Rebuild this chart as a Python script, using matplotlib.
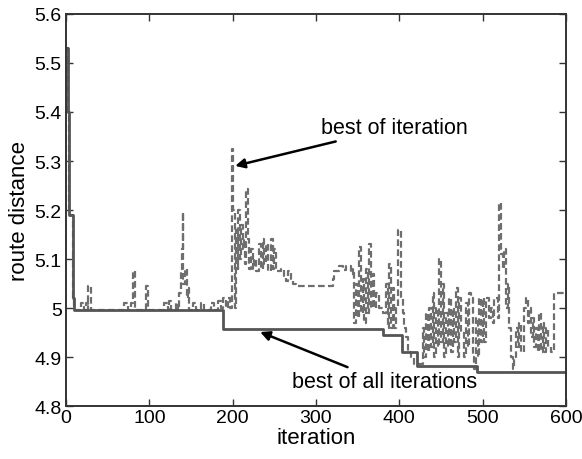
import matplotlib.pyplot as plt

# best of iteration: iteration where the value changes, and the new value
iter_steps = [0, 2, 4, 8, 10, 18, 22, 24, 26, 27, 30, 70, 74, 78, 80, 83, 96, 99,
              118, 122, 124, 126, 132, 135, 136, 138, 139, 140, 141, 143, 145, 147, 148,
              152, 156, 162, 166, 174, 178, 182, 186, 188, 192, 194, 197, 199, 201, 203,
              204, 206, 207, 209, 210, 212, 214, 215, 216, 218, 220, 222, 224, 226, 228,
              232, 234, 236, 238, 240, 242, 246, 248, 250, 252, 258, 262, 264, 266, 270,
              272, 276, 320, 322, 328, 332, 336, 342, 344, 346, 348, 350, 352, 354, 356,
              358, 360, 362, 364, 366, 368, 370, 372, 376, 380, 384, 386, 388, 390, 392,
              394, 396, 398, 402, 404, 406, 408, 410, 414, 418, 428, 430, 432, 434, 436,
              438, 440, 442, 444, 446, 448, 450, 452, 454, 456, 458, 460, 462, 464, 466,
              468, 470, 472, 474, 478, 480, 482, 484, 486, 488, 490, 492, 494, 496, 498,
              500, 502, 504, 508, 510, 512, 514, 518, 520, 522, 524, 526, 528, 530, 532,
              534, 536, 538, 540, 542, 544, 546, 550, 552, 554, 556, 558, 560, 562, 564,
              566, 568, 570, 572, 574, 576, 578, 582, 586, 600]
iter_values = [5.53, 5.40, 5.19, 5.02, 4.995, 5.01, 4.995, 5.01, 4.995, 5.045, 4.995, 5.01, 4.995, 5.01, 5.075, 4.995, 5.045, 4.995,
               5.01, 4.995, 5.015, 4.995, 5.01, 4.995, 5.03, 5.08, 5.12, 5.195, 5.05, 5.08, 5.02, 5.04, 4.995,
               5.01, 4.995, 5.01, 4.995, 5.01, 4.995, 5.015, 5.0, 5.02, 5.0, 5.02, 5.0, 5.325, 5.2, 5.0,
               5.16, 5.08, 5.2, 5.1, 5.17, 5.12, 5.14, 5.09, 5.243, 5.14, 5.08, 5.12, 5.08, 5.1, 5.075,
               5.13, 5.08, 5.14, 5.09, 5.13, 5.075, 5.14, 5.08, 5.12, 5.075, 5.08, 5.065, 5.055, 5.075, 5.06,
               5.05, 5.045, 5.06, 5.075, 5.085, 5.078, 5.085, 5.07, 5.08, 4.97, 5.05, 4.98, 5.125, 4.99, 5.06,
               4.97, 5.08, 4.99, 5.13, 5.0, 5.07, 5.0, 5.03, 5.0, 4.99, 5.05, 4.96, 5.09, 4.96, 5.04,
               4.96, 5.0, 5.16, 5.02, 4.99, 4.96, 4.94, 4.91, 4.9, 4.885, 4.96, 4.9, 4.99, 4.91, 5.0,
               4.92, 5.03, 4.9, 5.0, 4.92, 5.1, 4.93, 5.05, 4.9, 4.99, 4.92, 5.02, 4.91, 5.0, 4.93,
               5.04, 4.9, 5.02, 4.95, 4.9, 5.01, 4.92, 5.03, 5.02, 4.9, 4.875, 4.98, 4.9, 5.02, 4.93,
               5.02, 4.93, 5.02, 4.98, 5.0, 4.97, 5.02, 4.98, 5.215, 5.11, 5.08, 5.12, 5.0, 5.05, 4.96,
               4.9, 4.875, 4.9, 4.96, 4.92, 4.97, 4.91, 5.0, 5.02, 4.97, 5.0, 4.94, 4.98, 4.92, 4.96,
               4.91, 4.99, 4.91, 4.97, 4.91, 4.96, 4.92, 4.91, 5.03, 5.03]

# best of all iterations
all_steps = [0, 2, 4, 8, 10, 188, 380, 403, 421, 493, 600]
all_values = [5.53, 5.40, 5.19, 5.02, 4.995, 4.957, 4.945, 4.91, 4.882, 4.87, 4.87]

plt.rcParams['font.family'] = ['Liberation Sans', 'DejaVu Sans']

fig = plt.figure(figsize=(5.82, 4.60), dpi=100)
ax = fig.add_axes([0.1134, 0.1152, 0.8591, 0.8522])

ax.plot(iter_steps, iter_values, drawstyle='steps-post', linestyle=(0, (3, 1.5)),
        color='#6e6e6e', linewidth=1.6)
ax.plot(all_steps, all_values, drawstyle='steps-post', linestyle='-',
        color='#555555', linewidth=2.0)

ax.set_xlim(0, 600)
ax.set_ylim(4.8, 5.6)
ax.set_xticks([0, 100, 200, 300, 400, 500, 600])
ax.set_yticks([4.8, 4.9, 5.0, 5.1, 5.2, 5.3, 5.4, 5.5, 5.6])
ax.set_yticklabels(['4.8', '4.9', '5', '5.1', '5.2', '5.3', '5.4', '5.5', '5.6'])
ax.tick_params(direction='in', top=True, right=True, length=5, width=1,
               labelsize=14, color='#333333')
ax.tick_params(axis='x', pad=2)
ax.tick_params(axis='y', pad=3)
for s in ax.spines.values():
    s.set_linewidth(1.4)
    s.set_color('#333333')

ax.set_xlabel('iteration', fontsize=16, labelpad=1)
ax.set_ylabel('route distance', fontsize=16, labelpad=3)

ax.annotate('best of iteration', xy=(203, 5.29), xytext=(306, 5.369),
            fontsize=15.5, va='center', ha='left',
            arrowprops=dict(arrowstyle='-|>', color='black', lw=1.8, mutation_scale=14,
                            shrinkA=3, shrinkB=0))
ax.annotate('best of all iterations', xy=(233, 4.951), xytext=(271, 4.849),
            fontsize=15.5, va='center', ha='left',
            arrowprops=dict(arrowstyle='-|>', color='black', lw=1.8, mutation_scale=14,
                            shrinkA=3, shrinkB=0))

plt.savefig('out.png', dpi=100)
